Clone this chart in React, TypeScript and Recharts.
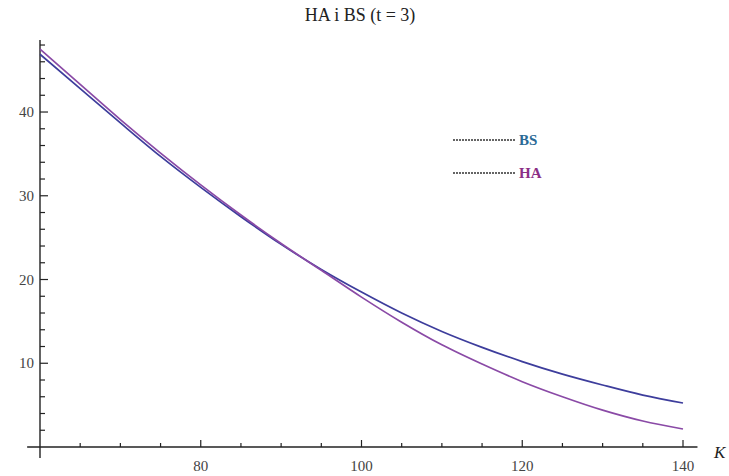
import { LineChart, Line, XAxis, YAxis, ReferenceLine } from 'recharts';

const strikes = [60, 65, 70, 75, 80, 85, 90, 95, 100, 105, 110, 115, 120, 125, 130, 135, 140];
const bsValues = [46.9, 42.8, 38.7, 34.7, 31.0, 27.5, 24.2, 21.2, 18.5, 16.0, 13.8, 11.9, 10.2, 8.7, 7.4, 6.2, 5.25];
const haValues = [47.5, 43.3, 39.1, 35.1, 31.3, 27.7, 24.3, 21.1, 17.9, 14.9, 12.2, 9.9, 7.8, 6.0, 4.4, 3.1, 2.15];

const xTicks = [65, 70, 75, 80, 85, 90, 95, 100, 105, 110, 115, 120, 125, 130, 135, 140];
const xLabels = [80, 100, 120, 140];
const yTicks = [2, 4, 6, 8, 10, 12, 14, 16, 18, 20, 22, 24, 26, 28, 30, 32, 34, 36, 38, 40, 42, 44, 46, 48];
const yLabels = [10, 20, 30, 40];

const series = [
  { key: 'BS', color: '#3d3d9c', textColor: '#2b6a96' },
  { key: 'HA', color: '#8a4aa6', textColor: '#8b2f86' },
];

const data = strikes.map((k, i) => ({ K: k, BS: bsValues[i], HA: haValues[i] }));

const FONT = '"Liberation Serif", "DejaVu Serif", serif';

const XTick = (props: any) => {
  const { x, y, payload } = props;
  const major = xLabels.includes(payload.value);
  return (
    <g>
      <line x1={x} x2={x} y1={y} y2={y - (major ? 7 : 4)} stroke="#222" strokeWidth={1.2} />
      {major && (
        <text x={x} y={y + 24} textAnchor="middle" fontFamily={FONT} fontSize={15} fill="#444">
          {payload.value}
        </text>
      )}
    </g>
  );
};

const YTick = (props: any) => {
  const { x, y, payload } = props;
  const major = yLabels.includes(payload.value);
  return (
    <g>
      <line x1={x} x2={x + (major ? 8 : 5)} y1={y} y2={y} stroke="#222" strokeWidth={1.2} />
      {major && (
        <text x={x - 6} y={y + 5} textAnchor="end" fontFamily={FONT} fontSize={15} fill="#444">
          {payload.value}
        </text>
      )}
    </g>
  );
};

// legend drawn in place, Mathematica-style
const legend = (
  <g>
    {series.map((s, i) => (
      <g key={s.key}>
        <line x1={453} x2={516} y1={140 + i * 33} y2={140 + i * 33} stroke="#333" strokeWidth={1.4} strokeDasharray="2 1" />
        <text x={519} y={145 + i * 33} fontFamily={FONT} fontSize={15} fontWeight="bold" fill={s.textColor}>
          {s.key}
        </text>
      </g>
    ))}
  </g>
);

export default function App() {
  return (
    <div style={{ position: 'absolute', left: 0, top: 0, background: '#fff' }}>
      <LineChart width={729} height={476} data={data} margin={{ top: 40, right: 46, bottom: 0, left: 0 }}>
        <text x={360} y={21} textAnchor="middle" fontFamily={FONT} fontSize={18} fill="#222">
          HA i BS (t = 3)
        </text>
        <text x={714} y={458} fontFamily={FONT} fontSize={17} fontStyle="italic" fill="#222">
          K
        </text>
        {legend}
        <XAxis
          dataKey="K"
          type="number"
          domain={[60, 140]}
          ticks={xTicks}
          interval={0}
          height={29}
          axisLine={false}
          tickLine={false}
          tickSize={0}
          tickMargin={0}
          tick={<XTick />}
        />
        <YAxis
          type="number"
          domain={[0, 48.6]}
          ticks={yTicks}
          interval={0}
          width={40}
          axisLine={false}
          tickLine={false}
          tickSize={0}
          tickMargin={0}
          tick={<YTick />}
        />
        <ReferenceLine
          segment={[{ x: 58.4, y: 0 }, { x: 141.8, y: 0 }]}
          stroke="#222"
          strokeWidth={1.4}
          ifOverflow="visible"
        />
        <ReferenceLine
          segment={[{ x: 60, y: -1.3 }, { x: 60, y: 48.6 }]}
          stroke="#222"
          strokeWidth={1.4}
          ifOverflow="visible"
        />
        {series.map((s) => (
          <Line
            key={s.key}
            type="monotone"
            dataKey={s.key}
            stroke={s.color}
            strokeWidth={1.7}
            dot={false}
            isAnimationActive={false}
          />
        ))}
      </LineChart>
    </div>
  );
}
